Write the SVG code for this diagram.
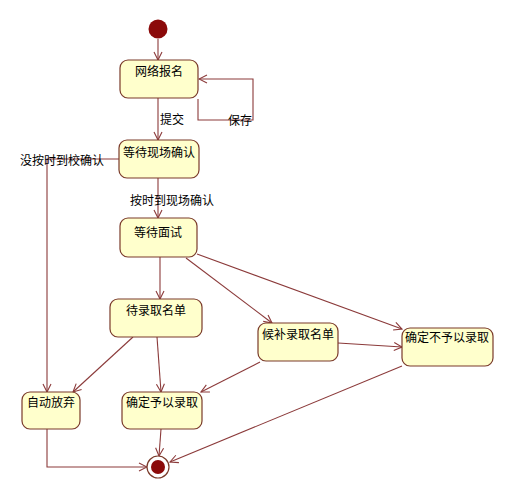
<svg xmlns="http://www.w3.org/2000/svg" width="514" height="500" viewBox="0 0 514 500">
<style>
.st{fill:#FFFFCC;stroke:#7A3A2A;stroke-width:1.2}
.t{font-family:"Noto Sans CJK SC","Liberation Sans",sans-serif;font-size:12px;fill:#000;text-anchor:middle}
.l{font-family:"Noto Sans CJK SC","Liberation Sans",sans-serif;font-size:12px;fill:#000}
.c{fill:none;stroke:#8B3A3A;stroke-width:1.1}
</style>
<defs>
<marker id="a" markerWidth="10" markerHeight="10" refX="9" refY="5" orient="auto" markerUnits="userSpaceOnUse">
<path d="M1,1 L9,5 L1,9" fill="none" stroke="#8B3A3A" stroke-width="1.1"/>
</marker>
</defs>
<rect width="514" height="500" fill="#fff"/>
<g id="connectors">
<path class="c" d="M158,39 L158,60" marker-end="url(#a)"/>
<path class="c" d="M198,99 L198,120 L253,120 L253,79 L199,79" marker-end="url(#a)"/>
<path class="c" d="M158,98 L158,140" marker-end="url(#a)"/>
<path class="c" d="M119,159 L47,159 L47,392" marker-end="url(#a)"/>
<path class="c" d="M158,178 L158,218" marker-end="url(#a)"/>
<path class="c" d="M160,257 L160,299" marker-end="url(#a)"/>
<path class="c" d="M186,258 L272,323" marker-end="url(#a)"/>
<path class="c" d="M197,254 L402,329" marker-end="url(#a)"/>
<path class="c" d="M338,343 L402,347" marker-end="url(#a)"/>
<path class="c" d="M260,362 L201,392" marker-end="url(#a)"/>
<path class="c" d="M402,366 L170,462" marker-end="url(#a)"/>
<path class="c" d="M133,337 L73,392" marker-end="url(#a)"/>
<path class="c" d="M157,337 L161,392" marker-end="url(#a)"/>
<path class="c" d="M161,429 L159,456" marker-end="url(#a)"/>
<path class="c" d="M47,429 L47,467 L147,467" marker-end="url(#a)"/>
</g>
<g id="labels">
<text class="l" x="160" y="124">提交</text>
<text class="l" x="228" y="125">保存</text>
<text class="l" x="20" y="165">没按时到校确认</text>
<text class="l" x="130" y="205">按时到现场确认</text>
</g>
<g id="initial"><circle cx="158" cy="29" r="9.5" fill="#8B0A0A"/></g>
<g id="s1"><rect class="st" x="120" y="60" width="78" height="38" rx="8"/><text class="t" x="159" y="76">网络报名</text></g>
<g id="s2"><rect class="st" x="119" y="140" width="80" height="38" rx="8"/><text class="t" x="159" y="157">等待现场确认</text></g>
<g id="s3"><rect class="st" x="120" y="218" width="77" height="39" rx="8"/><text class="t" x="158" y="237">等待面试</text></g>
<g id="s4"><rect class="st" x="110" y="299" width="92" height="38" rx="8"/><text class="t" x="156" y="315">待录取名单</text></g>
<g id="s5"><rect class="st" x="258" y="323" width="80" height="38" rx="8"/><text class="t" x="298" y="339">候补录取名单</text></g>
<g id="s6"><rect class="st" x="402" y="328" width="91" height="38" rx="8"/><text class="t" x="447" y="342">确定不予以录取</text></g>
<g id="s7"><rect class="st" x="22" y="392" width="58" height="37" rx="8"/><text class="t" x="51" y="407">自动放弃</text></g>
<g id="s8"><rect class="st" x="122" y="392" width="80" height="37" rx="8"/><text class="t" x="162" y="407">确定予以录取</text></g>
<g id="final"><circle cx="158" cy="467" r="11" fill="#fff" stroke="#7A3A2A" stroke-width="1.2"/><circle cx="158" cy="467" r="7" fill="#8B0A0A"/></g>
</svg>
